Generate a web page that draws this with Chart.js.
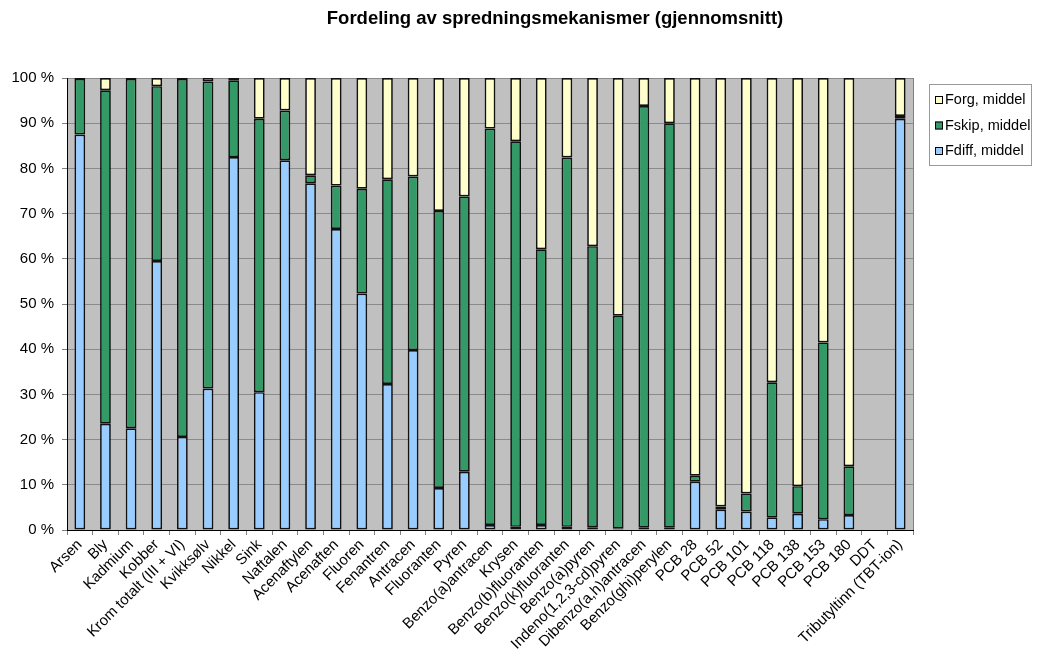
<!DOCTYPE html>
<html>
<head>
<meta charset="utf-8">
<script src="https://cdn.jsdelivr.net/npm/chart.js@4/dist/chart.umd.min.js"></script>
<style>
  html, body { margin: 0; padding: 0; background: #fff; }
  #wrap { width: 1037px; height: 659px; }
</style>
</head>
<body>
<div id="wrap"><canvas id="chart" width="1037" height="659"></canvas></div>
<script>
const categories = ['Arsen', 'Bly', 'Kadmium', 'Kobber', 'Krom totalt (III + VI)', 'Kvikksølv', 'Nikkel', 'Sink',
  'Naftalen', 'Acenaftylen', 'Acenaften', 'Fluoren', 'Fenantren', 'Antracen', 'Fluoranten', 'Pyren',
  'Benzo(a)antracen', 'Krysen', 'Benzo(b)fluoranten', 'Benzo(k)fluoranten', 'Benzo(a)pyren',
  'Indeno(1,2,3-cd)pyren', 'Dibenzo(a,h)antracen', 'Benzo(ghi)perylen',
  'PCB 28', 'PCB 52', 'PCB 101', 'PCB 118', 'PCB 138', 'PCB 153', 'PCB 180', 'DDT', 'Tributyltinn (TBT-ion)'];

const fdiff = [87.5, 23.5, 22.5, 59.5, 20.6, 31.3, 82.5, 30.5, 81.8, 76.7, 66.6, 52.3, 32.3, 39.8, 9.3, 12.9,
  1.1, 0.7, 1.1, 0.7, 0.6, 0.3, 0.5, 0.5, 10.7, 4.5, 4.1, 2.8, 3.6, 2.4, 3.3, null, 91.0];
const fskip = [12.3, 73.8, 77.3, 38.7, 79.2, 67.9, 17.0, 60.5, 11.0, 1.8, 9.6, 23.2, 45.3, 38.4, 61.3, 60.9,
  87.7, 85.3, 61.0, 81.7, 62.2, 47.1, 93.3, 89.5, 1.3, 0.7, 4.0, 29.9, 6.1, 39.1, 10.8, null, 0.6];
const forg = [0.2, 2.7, 0.2, 1.8, 0.2, 0.8, 0.5, 9.0, 7.2, 21.5, 23.8, 24.5, 22.4, 21.8, 29.4, 26.2,
  11.2, 14.0, 37.9, 17.6, 37.2, 52.6, 6.2, 10.0, 88.0, 94.8, 91.9, 67.3, 90.3, 58.5, 85.9, null, 8.4];

const yTicks = [0, 10, 20, 30, 40, 50, 60, 70, 80, 90, 100];

const seriesNames = ['Fdiff, middel', 'Fskip, middel', 'Forg, middel'];
const seriesColors = ['#99CCFF', '#339966', '#FFFFCC'];
const titleText = 'Fordeling av spredningsmekanismer (gjennomsnitt)';
const FONT = '"Liberation Sans", Arial, sans-serif';

// grey plot background + title
const plotBg = {
  id: 'plotBg',
  beforeDraw(chart) {
    const { ctx, chartArea: a } = chart;
    ctx.save();
    ctx.fillStyle = '#C0C0C0';
    ctx.fillRect(a.left, a.top, a.right - a.left, a.bottom - a.top);
    ctx.strokeStyle = '#808080';
    ctx.lineWidth = 1;
    ctx.beginPath();
    ctx.moveTo(a.right + 0.5, a.top);
    ctx.lineTo(a.right + 0.5, a.bottom);
    ctx.stroke();
    ctx.fillStyle = '#000';
    ctx.font = 'bold 18.5px ' + FONT;
    ctx.textAlign = 'center';
    ctx.textBaseline = 'middle';
    ctx.fillText(titleText, 555, 19);
    ctx.restore();
  }
};

// excel style legend box, reversed order
const boxLegend = {
  id: 'boxLegend',
  afterDraw(chart) {
    const { ctx } = chart;
    const x = 929, y = 84, w = 102, h = 81;
    ctx.save();
    ctx.fillStyle = '#fff';
    ctx.fillRect(x, y, w, h);
    ctx.strokeStyle = '#999';
    ctx.lineWidth = 1;
    ctx.strokeRect(x + 0.5, y + 0.5, w, h);
    ctx.font = '14.5px ' + FONT;
    ctx.textBaseline = 'middle';
    for (let i = 0; i < 3; i++) {
      const k = 2 - i;
      const cy = y + 16 + i * 25.5;
      ctx.fillStyle = seriesColors[k];
      ctx.fillRect(x + 6, cy - 4, 8, 8);
      ctx.strokeStyle = '#000';
      ctx.strokeRect(x + 6.5, cy - 3.5, 7, 7);
      ctx.fillStyle = '#000';
      ctx.fillText(seriesNames[k], x + 16, cy);
    }
    ctx.restore();
  }
};

const ctx = document.getElementById('chart').getContext('2d');
const chart = new Chart(ctx, {
  type: 'bar',
  data: {
    labels: categories,
    datasets: [fdiff, fskip, forg].map((d, i) => ({
      label: seriesNames[i],
      data: d,
      backgroundColor: seriesColors[i],
      borderColor: '#111',
      borderWidth: 1.7,
      borderSkipped: false,
      barPercentage: 0.42,
      categoryPercentage: 1
    }))
  },
  options: {
    responsive: false,
    animation: false,
    layout: { padding: { left: 0, right: 124, top: 78, bottom: 0 } },
    plugins: {
      legend: { display: false },
      tooltip: { enabled: false },
      title: { display: false }
    },
    scales: {
      x: {
        stacked: true,
        afterFit(scale) { scale.height = 129; },
        grid: { drawOnChartArea: false, drawTicks: true, tickLength: 5, color: '#808080', offset: true },
        border: { color: '#000', width: 1 },
        ticks: {
          color: '#000',
          maxRotation: 45, minRotation: 45,
          autoSkip: false,
          padding: 1,
          font: { family: FONT, size: 15 }
        }
      },
      y: {
        stacked: true,
        min: 0, max: 100,
        afterFit(scale) { scale.width = 67; },
        afterBuildTicks(scale) { scale.ticks = yTicks.map(v => ({ value: v })); },
        grid: { color: '#8a8a8a', tickColor: '#808080', tickLength: 5 },
        border: { color: '#000', width: 1 },
        ticks: {
          color: '#000',
          padding: 8,
          callback: v => v + ' %',
          font: { family: FONT, size: 15 }
        }
      }
    }
  },
  plugins: [plotBg, boxLegend]
});
</script>
</body>
</html>
